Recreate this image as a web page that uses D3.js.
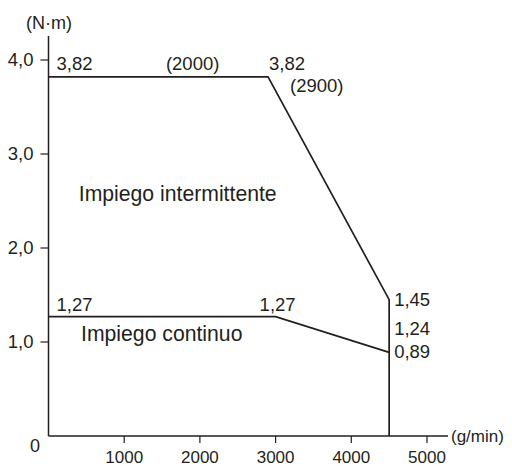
<!DOCTYPE html>
<html lang="it">
<head>
<meta charset="UTF-8">
<title>Coppia / velocità</title>
<script src="https://d3js.org/d3.v7.min.js"></script>
<style>
    body { margin: 0; background: #fff; }
    svg { display: block; font-family: "Liberation Sans", Arial, sans-serif; }
</style>
</head>
<body>
<svg id="chart" width="512" height="466"></svg>
<script>
    // curve data (speed g/min, torque N·m)
    const intermittent = [
        {rpm: 0, torque: 3.82},
        {rpm: 2900, torque: 3.82},
        {rpm: 4500, torque: 1.45},
        {rpm: 4500, torque: 0}
    ];
    const continuous = [
        {rpm: 0, torque: 1.27},
        {rpm: 3000, torque: 1.27},
        {rpm: 4500, torque: 0.89}
    ];
    const xTicks = [1000, 2000, 3000, 4000, 5000];
    const yTicks = [1, 2, 3, 4];
    const yTickLabels = ['1,0', '2,0', '3,0', '4,0'];

    // text labels anchored to data coordinates
    const labels = [
        {text: '3,82', rpm: 0, torque: 3.82, dx: 8, dy: -7},
        {text: '(2000)', rpm: 2000, torque: 3.82, dx: -34, dy: -7},
        {text: '3,82', rpm: 2900, torque: 3.82, dx: 1, dy: -7},
        {text: '(2900)', rpm: 2900, torque: 3.82, dx: 22, dy: 15},
        {text: '1,27', rpm: 0, torque: 1.27, dx: 8, dy: -6},
        {text: '1,27', rpm: 3000, torque: 1.27, dx: -16, dy: -6},
        {text: '1,45', rpm: 4500, torque: 1.45, dx: 5, dy: 6},
        {text: '1,24', rpm: 4500, torque: 1.24, dx: 5, dy: 16},
        {text: '0,89', rpm: 4500, torque: 0.89, dx: 5, dy: 6}
    ];
    const regionLabels = [
        {text: 'Impiego intermittente', rpm: 400, torque: 2.5},
        {text: 'Impiego continuo', rpm: 430, torque: 1.01}
    ];

    const ink = '#231f20';
    const svg = d3.select('#chart');

    const x = d3.scaleLinear().domain([0, 5000]).range([48.5, 427]);
    const y = d3.scaleLinear().domain([0, 4]).range([436, 60]);

    // axes lines
    svg.append('line')
        .attr('x1', x(0)).attr('x2', 448)
        .attr('y1', y(0)).attr('y2', y(0))
        .attr('stroke', ink).attr('stroke-width', 1.5);
    svg.append('line')
        .attr('x1', x(0)).attr('x2', x(0))
        .attr('y1', y(0)).attr('y2', 36)
        .attr('stroke', ink).attr('stroke-width', 1.5);

    // x ticks
    const xt = svg.selectAll('.xt').data(xTicks).enter().append('g')
        .attr('transform', d => `translate(${x(d)},${y(0)})`);
    xt.append('line').attr('y1', 0).attr('y2', 7)
        .attr('stroke', ink).attr('stroke-width', 1.2);
    xt.append('text').attr('y', 26.5).attr('text-anchor', 'middle')
        .attr('font-size', 17).attr('fill', ink).text(d => d);

    // y ticks
    const yt = svg.selectAll('.yt').data(yTicks).enter().append('g')
        .attr('transform', d => `translate(${x(0)},${y(d)})`);
    yt.append('line').attr('x1', -8).attr('x2', 0)
        .attr('stroke', ink).attr('stroke-width', 1.2);
    yt.append('text').attr('x', -15).attr('y', 6).attr('text-anchor', 'end')
        .attr('font-size', 18.5).attr('fill', ink).text((d, i) => yTickLabels[i]);

    svg.append('text').attr('x', 40).attr('y', y(0) + 16).attr('text-anchor', 'end')
        .attr('font-size', 18).attr('fill', ink).text('0');

    // units
    svg.append('text').attr('x', 26).attr('y', 29)
        .attr('font-size', 18).attr('fill', ink).text('(N·m)');
    svg.append('text').attr('x', 451).attr('y', y(0) + 6)
        .attr('font-size', 17).attr('fill', ink).text('(g/min)');

    // curves
    const line = d3.line().x(d => x(d.rpm)).y(d => y(d.torque));
    [intermittent, continuous].forEach(data => {
        svg.append('path').datum(data)
            .attr('d', line)
            .attr('fill', 'none')
            .attr('stroke', ink)
            .attr('stroke-width', 1.7);
    });

    // value labels
    svg.selectAll('.lbl').data(labels).enter().append('text')
        .attr('x', d => x(d.rpm) + d.dx)
        .attr('y', d => y(d.torque) + d.dy)
        .attr('font-size', 18.5).attr('fill', ink)
        .text(d => d.text);

    svg.selectAll('.region').data(regionLabels).enter().append('text')
        .attr('x', d => x(d.rpm))
        .attr('y', d => y(d.torque))
        .attr('font-size', 21.2).attr('fill', ink)
        .text(d => d.text);
</script>
</body>
</html>
